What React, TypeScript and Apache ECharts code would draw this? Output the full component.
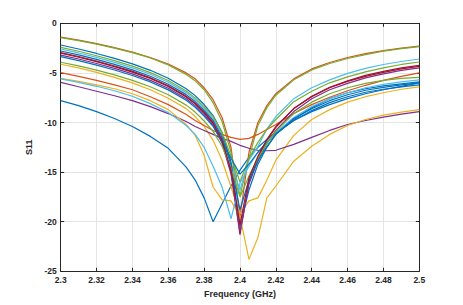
import React, { useEffect, useRef } from "react";
import * as echarts from "echarts";

const FREQ = [2.30, 2.31, 2.32, 2.33, 2.34, 2.35, 2.36, 2.37, 2.375, 2.38, 2.385, 2.39, 2.395, 2.40, 2.405, 2.41, 2.415, 2.42, 2.43, 2.44, 2.45, 2.46, 2.47, 2.48, 2.49, 2.50];

const C_BLUE = "#0072BD";
const C_ORANGE = "#D95319";
const C_YELLOW = "#EDB120";
const C_PURPLE = "#7E2F8E";
const C_GREEN = "#77AC30";
const C_LBLUE = "#4DBEEE";
const C_DRED = "#A2142F";

const s1 = [-7.8, -8.3, -8.9, -9.6, -10.4, -11.4, -12.6, -14.5, -15.8, -17.6, -20.0, -18.2, -16.4, -14.8, -13.5, -12.5, -11.7, -11.0, -9.8, -8.9, -8.2, -7.6, -7.1, -6.7, -6.35, -6.0];
const s2 = [-1.4, -1.7, -2.05, -2.45, -2.9, -3.45, -4.1, -5.0, -5.6, -6.5, -7.7, -9.5, -12.5, -19.5, -13.0, -10.0, -8.3, -7.1, -5.6, -4.6, -3.95, -3.45, -3.05, -2.75, -2.5, -2.3];
const s3 = [-4.13, -4.5, -4.95, -5.45, -6.0, -6.7, -7.55, -8.6, -9.4, -10.4, -11.8, -13.8, -16.5, -19.2, -17.9, -17.6, -15.8, -13.8, -11.3, -9.7, -8.7, -7.95, -7.4, -7.0, -6.65, -6.4];
const s4 = [-5.95, -6.4, -6.85, -7.3, -7.8, -8.4, -9.1, -9.9, -10.4, -10.8, -11.2, -11.6, -11.9, -12.3, -12.6, -12.8, -12.85, -12.8, -12.2, -11.5, -10.8, -10.2, -9.8, -9.45, -9.15, -8.9];
const s5 = [-1.45, -1.75, -2.1, -2.5, -2.95, -3.5, -4.2, -5.15, -5.8, -6.7, -8.0, -9.9, -13.0, -17.4, -13.6, -10.3, -8.5, -7.25, -5.7, -4.7, -4.05, -3.55, -3.15, -2.8, -2.55, -2.35];
const s6 = [-2.59, -2.99, -3.44, -3.94, -4.49, -5.14, -5.94, -6.99, -7.69, -8.59, -9.6, -11.3, -14.1, -16.8, -13.8, -12.4, -10.65, -9.4, -7.6, -6.5, -5.7, -5.05, -4.55, -4.15, -3.85, -3.6];
const s7 = [-3.02, -3.42, -3.87, -4.37, -4.92, -5.57, -6.37, -7.42, -8.12, -9.02, -10.1, -11.9, -15.0, -21.3, -16.0, -13.6, -11.8, -10.5, -8.6, -7.35, -6.45, -5.8, -5.25, -4.85, -4.5, -4.25];
const s8 = [-2.19, -2.59, -3.04, -3.54, -4.09, -4.74, -5.54, -6.59, -7.29, -8.19, -9.3, -11.0, -14.0, -20.5, -16.8, -14.2, -12.5, -11.2, -9.7, -8.5, -7.6, -7.0, -6.6, -6.3, -6.1, -5.9];
const s9 = [-4.98, -5.35, -5.75, -6.2, -6.7, -7.4, -8.2, -9.2, -9.8, -10.3, -10.8, -11.2, -11.5, -11.7, -11.6, -11.2, -10.7, -10.2, -9.1, -8.2, -7.45, -6.8, -6.25, -5.75, -5.35, -5.0];
const s10 = [-5.55, -5.85, -6.2, -6.6, -7.1, -7.8, -8.7, -10.2, -11.3, -13.3, -16.5, -17.8, -17.9, -19.5, -23.8, -21.6, -17.6, -16.4, -13.9, -12.4, -11.2, -10.3, -9.7, -9.25, -8.95, -8.7];
const s11 = [-3.2, -3.6, -4.05, -4.55, -5.1, -5.75, -6.55, -7.6, -8.3, -9.2, -10.3, -12.1, -15.2, -21.0, -16.2, -13.8, -12.1, -10.8, -8.9, -7.6, -6.7, -6.05, -5.5, -5.1, -4.75, -4.5];
const s12 = [-2.42, -2.82, -3.27, -3.77, -4.32, -4.97, -5.77, -6.82, -7.52, -8.42, -9.4, -11.0, -13.4, -16.0, -13.6, -12.0, -10.7, -9.7, -7.9, -6.85, -6.0, -5.4, -4.9, -4.5, -4.15, -3.9];
const s13 = [-5.6, -5.95, -6.35, -6.8, -7.35, -8.1, -9.0, -10.3, -11.2, -12.5, -14.4, -16.5, -19.7, -16.1, -14.4, -13.0, -11.9, -11.0, -9.5, -8.4, -7.6, -7.0, -6.5, -6.15, -5.9, -5.7];
const s14 = [-2.95, -3.35, -3.8, -4.3, -4.85, -5.5, -6.3, -7.35, -8.05, -8.95, -10.0, -11.8, -14.8, -20.3, -15.6, -13.4, -11.7, -10.4, -8.6, -7.4, -6.5, -5.85, -5.35, -4.95, -4.6, -4.35];
const s15 = [-2.79, -3.19, -3.64, -4.14, -4.69, -5.34, -6.14, -7.19, -7.89, -8.79, -9.8, -11.5, -14.3, -18.8, -15.8, -13.9, -12.4, -11.2, -9.6, -8.6, -7.8, -7.2, -6.75, -6.45, -6.2, -6.0];
const s16 = [-3.36, -3.76, -4.21, -4.71, -5.26, -5.91, -6.71, -7.76, -8.46, -9.36, -10.4, -11.9, -13.6, -15.2, -14.2, -13.0, -12.0, -11.1, -9.8, -8.8, -8.0, -7.4, -6.95, -6.65, -6.4, -6.2];
const s17 = [-3.93, -4.3, -4.72, -5.2, -5.75, -6.4, -7.2, -8.25, -8.95, -9.85, -10.9, -12.4, -14.6, -17.5, -15.4, -13.6, -12.1, -10.9, -9.1, -7.95, -7.1, -6.5, -6.05, -5.75, -5.55, -5.45];

const SERIES: [string, number[]][] = [
  [C_BLUE, s1],
  [C_ORANGE, s2],
  [C_YELLOW, s3],
  [C_PURPLE, s4],
  [C_GREEN, s5],
  [C_LBLUE, s6],
  [C_DRED, s7],
  [C_BLUE, s8],
  [C_ORANGE, s9],
  [C_YELLOW, s10],
  [C_PURPLE, s11],
  [C_GREEN, s12],
  [C_LBLUE, s13],
  [C_BLUE, s15],
  [C_BLUE, s16],
  [C_GREEN, s17],
  [C_DRED, s14],
];

const X_MIN = 2.3;
const X_MAX = 2.5;
const X_STEP = 0.02;
const Y_MIN = -25;
const Y_MAX = 0;
const Y_STEP = 5;

const FONT = "'Liberation Sans', Arial, Helvetica, sans-serif";
const AX = "#262626";
const GRID = "#e4e4e4";

export default function App() {
  const ref = useRef<HTMLDivElement>(null);
  useEffect(() => {
    document.body.style.margin = "0";
    if (!ref.current) return;
    const chart = echarts.init(ref.current, null, { renderer: "svg" });
    const fmtX = (v: number) => String(parseFloat(v.toFixed(2)));
    const baseX = {
      type: "value" as const,
      min: X_MIN,
      max: X_MAX,
      interval: X_STEP,
    };
    const baseY = {
      type: "value" as const,
      min: Y_MIN,
      max: Y_MAX,
      interval: Y_STEP,
    };
    chart.setOption({
      animation: false,
      backgroundColor: "#ffffff",
      grid: { left: 60.7, right: 43.7, top: 23.3, bottom: 33.7, containLabel: false },
      xAxis: [
        {
          ...baseX,
          position: "bottom",
          name: "Frequency (GHz)",
          nameLocation: "middle",
          nameGap: 15,
          nameTextStyle: { color: AX, fontFamily: FONT, fontSize: 9, fontWeight: "bold" },
          axisLine: { show: true, onZero: false, lineStyle: { color: AX, width: 1 } },
          axisTick: { show: true, inside: true, length: 3.5, lineStyle: { color: AX } },
          axisLabel: { show: true, margin: 4, color: AX, fontFamily: FONT, fontSize: 8.5, fontWeight: "bold", formatter: fmtX },
          splitLine: { show: true, lineStyle: { color: GRID, width: 1 } },
        },
        {
          ...baseX,
          position: "top",
          axisLine: { show: true, onZero: false, lineStyle: { color: AX, width: 1 } },
          axisTick: { show: true, inside: true, length: 3.5, lineStyle: { color: AX } },
          axisLabel: { show: false },
          splitLine: { show: false },
        },
      ],
      yAxis: [
        {
          ...baseY,
          position: "left",
          name: "S11",
          nameLocation: "middle",
          nameGap: 17,
          nameRotate: 90,
          nameTextStyle: { color: AX, fontFamily: FONT, fontSize: 9, fontWeight: "bold" },
          axisLine: { show: true, onZero: false, lineStyle: { color: AX, width: 1 } },
          axisTick: { show: true, inside: true, length: 3.5, lineStyle: { color: AX } },
          axisLabel: { show: true, margin: 4, color: AX, fontFamily: FONT, fontSize: 8.5, fontWeight: "bold" },
          splitLine: { show: true, lineStyle: { color: GRID, width: 1 } },
        },
        {
          ...baseY,
          position: "right",
          axisLine: { show: true, onZero: false, lineStyle: { color: AX, width: 1 } },
          axisTick: { show: true, inside: true, length: 3.5, lineStyle: { color: AX } },
          axisLabel: { show: false },
          splitLine: { show: false },
        },
      ],
      series: SERIES.map(([color, ys], i) => ({
        type: "line",
        name: "s" + (i + 1),
        xAxisIndex: 0,
        yAxisIndex: 0,
        showSymbol: false,
        symbol: "none",
        clip: true,
        lineStyle: { color, width: 1.2 },
        itemStyle: { color },
        data: FREQ.map((f, k) => [f, ys[k]]),
      })),
    });
    return () => chart.dispose();
  }, []);
  return <div ref={ref} style={{ width: 463, height: 305 }} />;
}
